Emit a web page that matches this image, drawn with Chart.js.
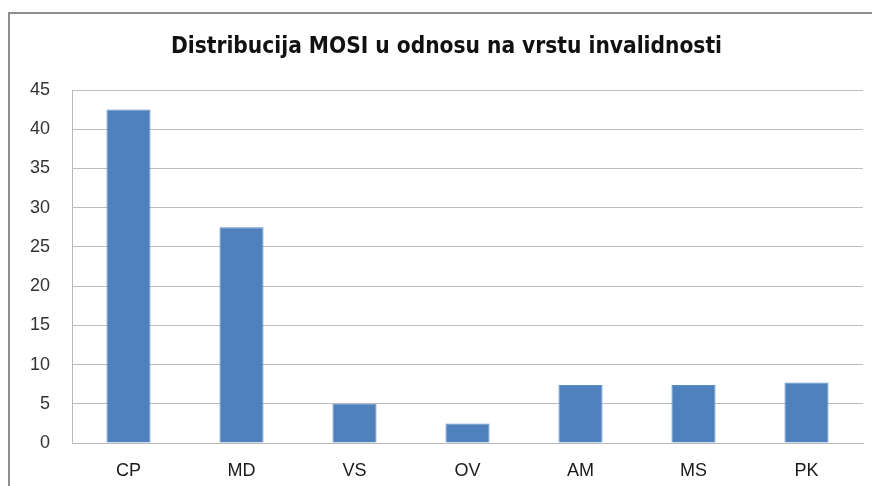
<!DOCTYPE html>
<html lang="en">
<head>
  <meta charset="UTF-8">
  <script src="https://cdn.jsdelivr.net/npm/chart.js"></script>
  <title>Distribucija MOSI</title>
  <style>
    html, body { margin: 0; padding: 0; background: #fff; }
    .mae { position: relative; width: 872px; height: 486px; overflow: hidden; }
    .okvir { position: absolute; left: 8px; top: 12px; width: 900px; height: 520px; border: 2px solid #8e8e8e; box-sizing: border-box; }
    .grafico { position: absolute; left: 0; top: 0; width: 872px; height: 486px; }
  </style>
</head>
<body>
  <div class="mae">
    <div class="okvir"></div>
    <div class="grafico">
      <canvas id="myChart" width="872" height="486"></canvas>
    </div>
  </div>

<script>
const kategorije = ['CP', 'MD', 'VS', 'OV', 'AM', 'MS', 'PK']
const vrijednosti = [42.5, 27.5, 5, 2.5, 7.4, 7.4, 7.7]
const naslov = 'Distribucija MOSI u odnosu na vrstu invalidnosti'
const yMin = 0, yMax = 45, yKorak = 5

const ctx = document.getElementById('myChart');
new Chart(ctx, {
  type: 'bar',
  data: {
    labels: kategorije,
    datasets: [{
      label: 'MOSI',
      data: vrijednosti,
      backgroundColor: '#4f81bd',
      borderColor: '#5b8cc6',
      borderWidth: 1,
      categoryPercentage: 1,
      barPercentage: 0.39
    }]
  },
  options: {
    responsive: false,
    animation: false,
    // lijevi padding pomiče naslov udesno kao u originalu
    layout: { padding: { left: 30, right: 9, top: 0, bottom: 0 } },
    plugins: {
      legend: { display: false },
      tooltip: { enabled: false },
      title: {
        display: true,
        text: naslov,
        color: '#111',
        font: { family: "'Liberation Sans Narrow', 'DejaVu Sans Condensed', sans-serif", size: 22.5, weight: '600' },
        padding: { top: 34, bottom: 29 }
      }
    },
    scales: {
      x: {
        afterFit: (s) => { s.height = 43 },
        grid: { display: false, drawTicks: false },
        border: { color: '#b8b8b8', width: 1 },
        ticks: {
          color: '#1a1a1a',
          padding: 17,
          font: { family: "'Liberation Sans', Arial, sans-serif", size: 18 }
        }
      },
      y: {
        min: yMin,
        max: yMax,
        afterFit: (s) => { s.width = 42 },
        grid: { color: '#bcbcbc', lineWidth: 1, drawTicks: false },
        border: { color: '#b8b8b8', width: 1 },
        ticks: {
          stepSize: yKorak,
          color: '#333',
          padding: 22,
          font: { family: "'Liberation Sans', Arial, sans-serif", size: 18 }
        }
      }
    }
  }
});
</script>
</body>
</html>
